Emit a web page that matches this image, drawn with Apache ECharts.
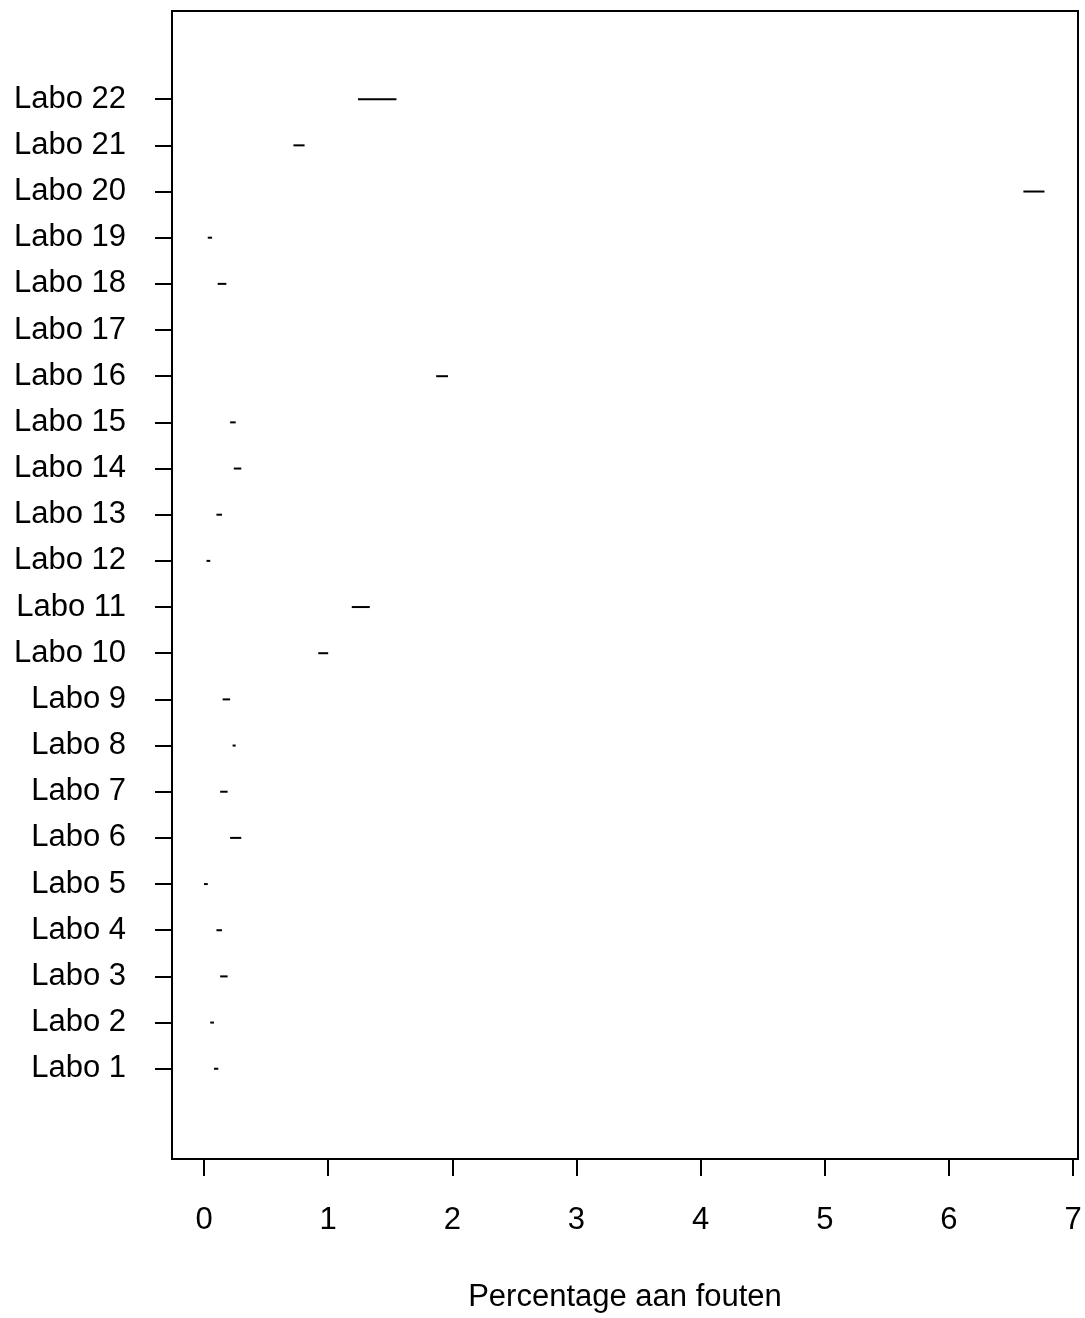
<!DOCTYPE html>
<html>
<head>
<meta charset="utf-8">
<script src="https://cdn.jsdelivr.net/npm/echarts@6/dist/echarts.min.js"></script>
<style>
  html, body { margin: 0; padding: 0; background: #fff; }
  #chart { width: 1085px; height: 1318px; }
</style>
</head>
<body>
<div id="chart"></div>
<script>
// labo's, one row each (Labo 1 at the bottom)
const labs = ['Labo 1', 'Labo 2', 'Labo 3', 'Labo 4', 'Labo 5', 'Labo 6', 'Labo 7', 'Labo 8',
  'Labo 9', 'Labo 10', 'Labo 11', 'Labo 12', 'Labo 13', 'Labo 14', 'Labo 15', 'Labo 16',
  'Labo 17', 'Labo 18', 'Labo 19', 'Labo 20', 'Labo 21', 'Labo 22']
// interval ends, percentage aan fouten (Labo 17 has no segment)
const lowVals = [0.08, 0.05, 0.13, 0.10, 0.00, 0.21, 0.13, 0.23, 0.15, 0.92, 1.19, 0.02,
  0.10, 0.24, 0.21, 1.87, null, 0.11, 0.03, 6.60, 0.72, 1.24]
const highVals = [0.115, 0.08, 0.19, 0.145, 0.03, 0.30, 0.19, 0.255, 0.21, 1.00, 1.335, 0.05,
  0.145, 0.30, 0.255, 1.965, null, 0.18, 0.065, 6.77, 0.81, 1.55]
const xTicks = [0, 1, 2, 3, 4, 5, 6, 7]

const rowIdx = labs.map((_, i) => i + 1)
const segData = []
labs.forEach((_, i) => {
  if (lowVals[i] == null) return
  segData.push([lowVals[i], highVals[i], i + 1])
})

const font = 'Liberation Sans, Arial, sans-serif'
const chart = echarts.init(document.getElementById('chart'), null, { renderer: 'canvas' })

chart.setOption({
  animation: false,
  backgroundColor: '#fff',
  grid: {
    show: true,
    left: 172,
    right: 7,
    top: 11,
    bottom: 156,
    borderColor: '#000',
    borderWidth: 2,
    backgroundColor: 'transparent'
  },
  xAxis: {
    type: 'value',
    min: -0.258,
    max: 7.04,
    name: 'Percentage aan fouten',
    nameLocation: 'middle',
    nameGap: 123,
    nameTextStyle: { fontFamily: font, fontSize: 31, color: '#000' },
    axisLine: { show: false, onZero: false },
    splitLine: { show: false },
    axisTick: {
      show: true,
      inside: false,
      length: 17,
      customValues: xTicks,
      lineStyle: { color: '#000', width: 2 }
    },
    axisLabel: {
      customValues: xTicks,
      margin: 46,
      fontFamily: font,
      fontSize: 31,
      color: '#000'
    }
  },
  yAxis: {
    type: 'value',
    min: -0.955,
    max: 23.91,
    axisLine: { show: false, onZero: false },
    splitLine: { show: false },
    axisTick: {
      show: true,
      inside: false,
      length: 17,
      customValues: rowIdx,
      lineStyle: { color: '#000', width: 2 }
    },
    axisLabel: {
      customValues: rowIdx,
      margin: 46,
      padding: [10, 0, 0, 0],
      fontFamily: font,
      fontSize: 31,
      color: '#000',
      formatter: v => labs[Math.round(v) - 1]
    }
  },
  series: [
    {
      type: 'custom',
      data: segData,
      encode: { x: [0, 1], y: 2 },
      renderItem(params, api) {
        const a = api.coord([api.value(0), api.value(2)])
        const b = api.coord([api.value(1), api.value(2)])
        return {
          type: 'line',
          shape: { x1: a[0], y1: a[1], x2: b[0], y2: b[1] },
          style: { stroke: '#000', lineWidth: 2 }
        }
      }
    }
  ]
})
</script>
</body>
</html>
